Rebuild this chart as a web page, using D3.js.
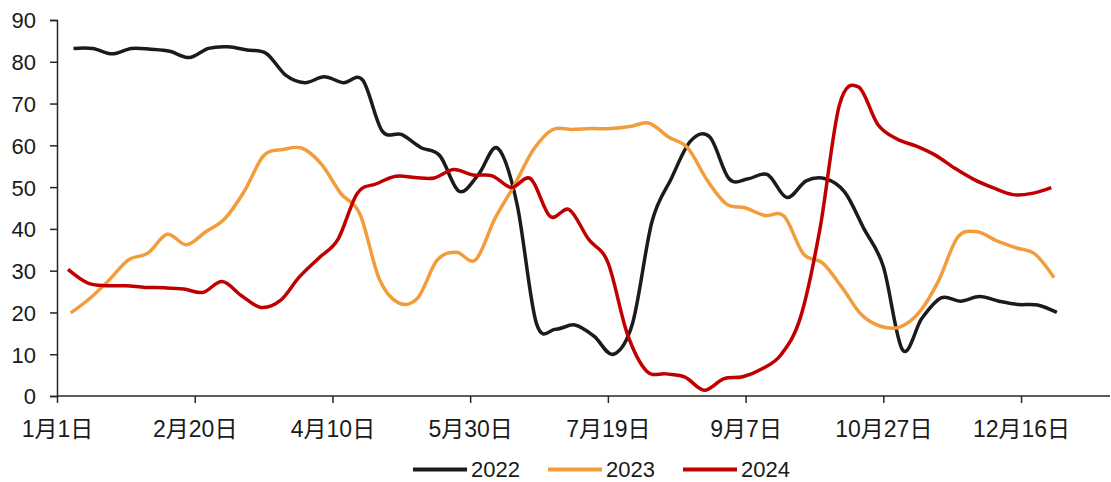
<!DOCTYPE html>
<html>
<head>
<meta charset="utf-8">
<script src="https://cdn.jsdelivr.net/npm/d3@7"></script>
<style>
  html, body { margin: 0; padding: 0; background: #fff; }
  svg text { font-family: "Liberation Sans", Arial, "Noto Sans CJK SC", sans-serif; fill: #1a1a1a; }
</style>
</head>
<body>
<svg id="chart" width="1111" height="482"></svg>
<script>
// ---- data ----
const tickDays = [0, 50, 100, 150, 200, 250, 300, 350];
const tickLabels = ["1月1日", "2月20日", "4月10日", "5月30日", "7月19日", "9月7日", "10月27日", "12月16日"];
const yTicks = [0, 10, 20, 30, 40, 50, 60, 70, 80, 90];

const seriesNames = ["2022", "2023", "2024"];
const seriesColors = ["#1b1b1b", "#f39c3c", "#c00000"];
const seriesStartDay = [6, 5, 4]; // first weekly observation (day of year)

const values2022 = [83.2, 83.2, 81.9, 83.2, 83.0, 82.5, 81.0, 83.2, 83.6, 82.8,
  82.0, 76.8, 75.0, 76.4, 75.0, 75.6, 63.5, 62.6, 59.5, 57.5,
  49.0, 53.0, 59.3, 46.0, 17.5, 16.0, 17.0, 14.3, 10.0, 17.5,
  41.7, 52.0, 61.0, 62.0, 52.0, 52.0, 53.0, 47.5, 51.5, 52.0,
  48.8, 40.0, 31.0, 11.0, 18.6, 23.5, 22.7, 23.8, 22.7, 21.9,
  21.8, 20.0];
const values2023 = [19.9, 23.4, 27.8, 32.6, 34.2, 38.7, 36.2, 39.3, 42.5, 49.0,
  57.5, 59.0, 59.3, 55.5, 48.5, 43.5, 28.0, 22.3, 23.5, 32.5,
  34.4, 32.6, 42.5, 50.4, 59.0, 63.8, 63.8, 64.0, 64.0, 64.5,
  65.3, 62.0, 59.4, 51.7, 46.0, 45.0, 43.2, 43.0, 34.0, 31.8,
  26.0, 19.5, 16.7, 16.5, 20.0, 27.5, 38.0, 39.3, 37.2, 35.5,
  34.0, 28.3];
const values2024 = [30.3, 27.1, 26.4, 26.4, 26.0, 25.9, 25.6, 24.8, 27.4, 24.0,
  21.2, 22.8, 28.5, 33.0, 37.5, 48.5, 50.8, 52.6, 52.3, 52.2,
  54.2, 52.9, 52.7, 49.9, 52.0, 43.0, 44.6, 37.5, 32.0, 15.0,
  6.0, 5.3, 4.5, 1.4, 4.1, 4.6, 6.5, 10.0, 19.0, 40.0,
  69.5, 74.0, 65.0, 61.5, 59.8, 57.6, 54.5, 51.8, 49.8, 48.2,
  48.5, 49.9];
const seriesValues = [values2022, values2023, values2024];

// ---- layout ----
const svg = d3.select("#chart");
const x0 = 57, x1 = 1110, yTop = 20, yBot = 396;
const x = d3.scaleLinear().domain([0, 382.3]).range([x0, x1]);
const y = d3.scaleLinear().domain([0, 90]).range([yBot, yTop]);

const axisColor = "#262626";

// y axis
const yAxis = svg.append("g").attr("transform", `translate(${x0},0)`)
  .call(d3.axisLeft(y).tickValues(yTicks).tickSize(7).tickPadding(14).tickFormat(d3.format("d")));
yAxis.select(".domain").attr("stroke", axisColor).attr("stroke-width", 1.5);
yAxis.selectAll(".tick line").attr("stroke", axisColor).attr("stroke-width", 1.5);
yAxis.selectAll(".tick text").attr("font-size", 22).attr("dy", "0.36em");

// x axis
const xAxis = svg.append("g").attr("transform", `translate(0,${yBot})`)
  .call(d3.axisBottom(x).tickValues(tickDays).tickSize(7).tickPadding(18)
    .tickFormat((d, i) => tickLabels[i]));
xAxis.select(".domain").attr("stroke", axisColor).attr("stroke-width", 1.5)
  .attr("d", `M${x0},0H${x1}`);
xAxis.selectAll(".tick line").attr("stroke", axisColor).attr("stroke-width", 1.5);
xAxis.selectAll(".tick text").attr("font-size", 23);

// lines
const line = d3.line()
  .x(d => x(d[0]))
  .y(d => y(d[1]))
  .curve(d3.curveCardinal.tension(0));

seriesValues.forEach((vals, s) => {
  const pts = vals.map((v, i) => [seriesStartDay[s] + 7 * i, v]);
  svg.append("path")
    .datum(pts)
    .attr("fill", "none")
    .attr("stroke", seriesColors[s])
    .attr("stroke-width", 3.5)
    .attr("stroke-linejoin", "round")
    .attr("stroke-linecap", "butt")
    .attr("d", line);
});

// legend
const legendX = [413, 548, 683];
const legend = svg.append("g");
seriesNames.forEach((name, s) => {
  const g = legend.append("g").attr("transform", `translate(${legendX[s]},469.5)`);
  g.append("line").attr("x1", 0).attr("x2", 54).attr("y1", 0).attr("y2", 0)
    .attr("stroke", seriesColors[s]).attr("stroke-width", 4);
  g.append("text").attr("x", 58).attr("y", 0).attr("dy", "0.36em")
    .attr("font-size", 22).text(name);
});
</script>
</body>
</html>
